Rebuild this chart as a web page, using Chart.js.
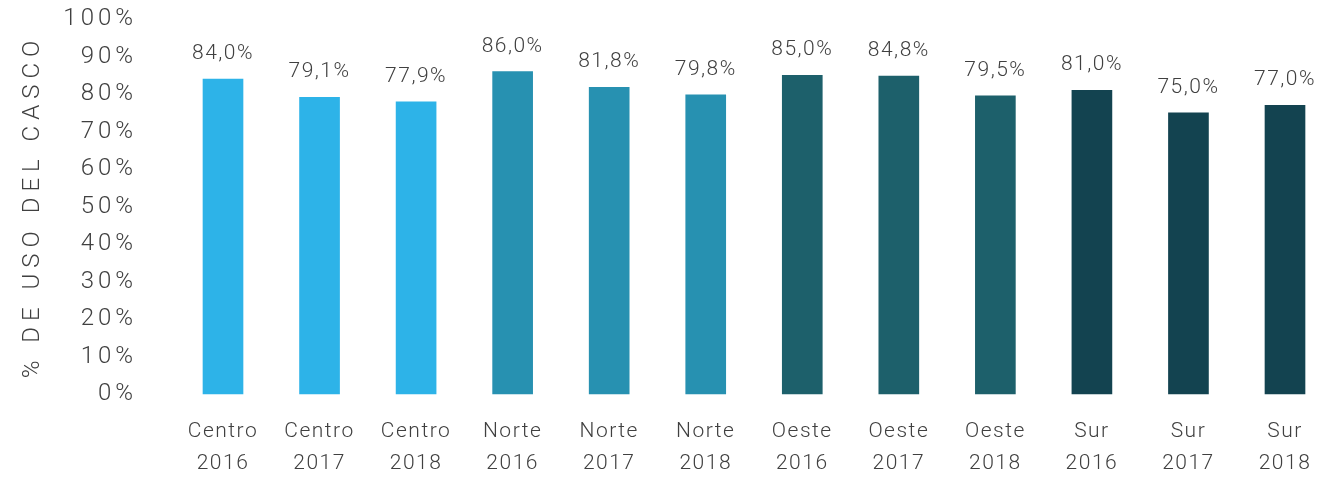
<!DOCTYPE html>
<html>
<head>
<meta charset="utf-8">
<script src="https://cdn.jsdelivr.net/npm/chart.js@4/dist/chart.umd.min.js"></script>
<style>
  html, body { margin: 0; padding: 0; background: #fff; overflow: hidden; }
  #wrap { width: 1329px; height: 477px; }
</style>
</head>
<body>
<div id="wrap"><canvas id="barChart"></canvas></div>
<script>
// datos del gráfico
const regiones = ['Centro', 'Centro', 'Centro', 'Norte', 'Norte', 'Norte', 'Oeste', 'Oeste', 'Oeste', 'Sur', 'Sur', 'Sur'];
const anios = ['2016', '2017', '2018', '2016', '2017', '2018', '2016', '2017', '2018', '2016', '2017', '2018'];
const usoCasco = [84.0, 79.1, 77.9, 86.0, 81.8, 79.8, 85.0, 84.8, 79.5, 81.0, 75.0, 77.0];
const colores = ['#2db3e8', '#2db3e8', '#2db3e8', '#2791b1', '#2791b1', '#2791b1', '#1d606b', '#1d606b', '#1d606b', '#134350', '#134350', '#134350'];

const textColor = '#404040';
const fontFamily = 'Roboto, "Liberation Sans", sans-serif';

// espaciado de letras por eje (Chart.js no lo soporta directamente)
const spacingPlugin = {
    id: 'spacing',
    afterUpdate(chart) {
        const cfg = { x: ['1.5px', '0px'], y: ['4px', '6px'] };
        Object.keys(cfg).forEach(id => {
            const scale = chart.scales[id];
            if (!scale || scale._spaced) return;
            scale._spaced = true;
            const drawLabels = scale.drawLabels.bind(scale);
            const drawTitle = scale.drawTitle.bind(scale);
            scale.drawLabels = area => {
                chart.ctx.letterSpacing = cfg[id][0];
                drawLabels(area);
                chart.ctx.letterSpacing = '0px';
            };
            scale.drawTitle = area => {
                chart.ctx.letterSpacing = cfg[id][1];
                drawTitle(area);
                chart.ctx.letterSpacing = '0px';
            };
        });
    }
};

// etiquetas de valor encima de cada barra
const valueLabels = {
    id: 'valueLabels',
    afterDatasetsDraw(chart) {
        const ctx = chart.ctx;
        const meta = chart.getDatasetMeta(0);
        ctx.save();
        ctx.font = '300 21px ' + fontFamily;
        ctx.fillStyle = textColor;
        ctx.textAlign = 'center';
        ctx.textBaseline = 'alphabetic';
        ctx.letterSpacing = '1.5px';
        meta.data.forEach((bar, i) => {
            const txt = usoCasco[i].toFixed(1).replace('.', ',') + '%';
            ctx.fillText(txt, bar.x, bar.y - 20);
        });
        ctx.restore();
    }
};

const ctx = document.getElementById('barChart').getContext('2d');
new Chart(ctx, {
    type: 'bar',
    data: {
        labels: regiones.map((r, i) => [r, anios[i]]),
        datasets: [{
            data: usoCasco,
            backgroundColor: colores,
            borderWidth: 0,
            barThickness: 40,
            clip: false
        }]
    },
    options: {
        responsive: true,
        maintainAspectRatio: false,
        animation: false,
        layout: { padding: { top: 19, right: 44, bottom: 0, left: 0 } },
        plugins: {
            legend: { display: false },
            tooltip: { enabled: false }
        },
        scales: {
            x: {
                offset: false,
                grid: { display: false, drawTicks: false },
                border: { display: false },
                ticks: {
                    color: textColor,
                    font: { family: fontFamily, size: 21, weight: '300', lineHeight: 1.5 },
                    padding: 22,
                    maxRotation: 0,
                    autoSkip: false
                },
                afterFit(scale) {
                    scale.height = 83;
                    scale.paddingLeft = 0;
                    scale.paddingRight = 0;
                }
            },
            y: {
                min: 0,
                max: 100,
                grid: { display: false, drawTicks: false },
                border: { display: false },
                ticks: {
                    stepSize: 10,
                    color: textColor,
                    font: { family: fontFamily, size: 24, weight: '300' },
                    padding: 86,
                    callback: v => v + '%'
                },
                title: {
                    display: true,
                    text: '% DE USO DEL CASCO',
                    color: textColor,
                    font: { family: fontFamily, size: 24, weight: '300' },
                    padding: 19
                },
                afterFit(scale) {
                    // ancho fijo y sin relleno vertical extra
                    scale.width = 223;
                    scale.paddingTop = 0;
                    scale.paddingBottom = 0;
                }
            }
        }
    },
    plugins: [spacingPlugin, valueLabels]
});
</script>
</body>
</html>
